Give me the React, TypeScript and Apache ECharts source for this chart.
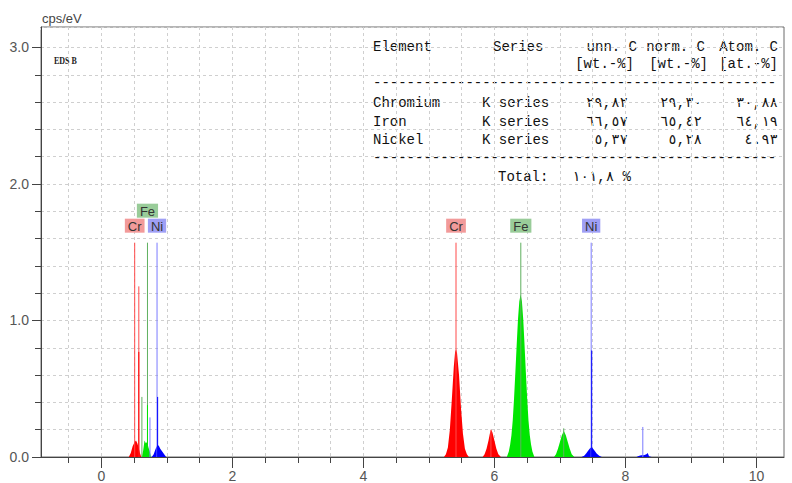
import { useEffect, useRef } from "react";
import * as echarts from "echarts";

// ---------- axis ticks ----------
const xLabelValues = [0, 2, 4, 6, 8, 10];
const xMinorTickValues = [-0.5, 0, 0.5, 1, 1.5, 2, 2.5, 3, 3.5, 4, 4.5, 5, 5.5, 6, 6.5, 7, 7.5, 8, 8.5, 9, 9.5, 10];

// ---------- spectrum peaks (energy keV, cps/eV) ----------
const crLPeak = [[0.42, 0], [0.45, 0.03], [0.48, 0.08], [0.51, 0.11], [0.53, 0.12], [0.55, 0.1], [0.57, 0.07], [0.59, 0.03], [0.61, 0]];
const crKaPeak = [[5.23, 0], [5.26, 0.02], [5.29, 0.07], [5.32, 0.2], [5.35, 0.42], [5.38, 0.66], [5.40, 0.77], [5.415, 0.79], [5.43, 0.76], [5.46, 0.6], [5.49, 0.36], [5.52, 0.17], [5.55, 0.06], [5.58, 0.02], [5.61, 0]];
const crKbPeak = [[5.82, 0], [5.85, 0.02], [5.88, 0.06], [5.91, 0.12], [5.93, 0.17], [5.95, 0.2], [5.97, 0.18], [6.0, 0.12], [6.03, 0.06], [6.06, 0.02], [6.1, 0]];

const feLPeak = [[0.62, 0], [0.64, 0.05], [0.66, 0.12], [0.68, 0.1], [0.7, 0.11], [0.72, 0.07], [0.74, 0.04], [0.76, 0]];
const feKaPeak = [[6.19, 0], [6.22, 0.04], [6.24, 0.09], [6.26, 0.16], [6.28, 0.27], [6.3, 0.43], [6.32, 0.62], [6.34, 0.82], [6.36, 1.01], [6.38, 1.14], [6.4, 1.19], [6.42, 1.14], [6.44, 1.01], [6.46, 0.82], [6.48, 0.62], [6.5, 0.43], [6.52, 0.27], [6.54, 0.16], [6.56, 0.09], [6.58, 0.04], [6.61, 0]];
const feKbPeak = [[6.91, 0], [6.94, 0.02], [6.97, 0.06], [7.0, 0.11], [7.03, 0.16], [7.06, 0.19], [7.09, 0.16], [7.12, 0.11], [7.15, 0.06], [7.18, 0.02], [7.22, 0]];

const niLPeak = [[0.77, 0], [0.8, 0.02], [0.83, 0.06], [0.86, 0.09], [0.88, 0.08], [0.9, 0.06], [0.93, 0.04], [0.96, 0.02], [0.99, 0]];
const niKaPeak = [[7.33, 0], [7.37, 0.01], [7.4, 0.025], [7.43, 0.045], [7.46, 0.065], [7.48, 0.072], [7.5, 0.065], [7.53, 0.045], [7.56, 0.025], [7.6, 0.01], [7.64, 0]];
const niKbPeak = [[8.17, 0], [8.2, 0.008], [8.24, 0.012], [8.28, 0.012], [8.32, 0.02], [8.34, 0.03], [8.36, 0.005], [8.4, 0]];

// narrow single-channel spikes of the spectrum
const crSpikes = [[0.573, 0.77]];
const feSpikes = [[0.705, 0.38]];
const niSpikes = [[0.86, 0.44], [7.485, 0.78]];

// element identification lines [energy, height]
const crLines = [[0.51, 1.57], [0.573, 1.25], [5.414, 1.57], [5.947, 0.2]];
const feLines = [[0.62, 0.44], [0.705, 1.57], [6.403, 1.57], [7.058, 0.21]];
const niLines = [[0.743, 0.29], [0.851, 1.57], [7.477, 1.57], [8.265, 0.22]];
const labelledHeight = 1.57;

// ---------- quantification table ----------
const tableElements = ["Chromium", "Iron", "Nickel"];
const tableSeries = ["K series", "K series", "K series"];
const unnC = ["٢٩,٨٢", "٦٦,٥٧", "٥,٣٧"];
const normC = ["٢٩,٣٠", "٦٥,٤٢", "٥,٢٨"];
const atomC = ["٣٠,٨٨", "٦٤,١٩", "٤.٩٣"];
const totalValue = "١٠١,٨ %";

const ELEMENTS = [
  { name: "Cr", fill: "#ff0000", line: "#ff4a4a", label: "#f29a9a", peaks: [crLPeak, crKaPeak, crKbPeak], spikes: crSpikes, lines: crLines },
  { name: "Fe", fill: "#00e600", line: "#5fb05f", label: "#99cc99", peaks: [feLPeak, feKaPeak, feKbPeak], spikes: feSpikes, lines: feLines },
  { name: "Ni", fill: "#0000ff", line: "#7a7aff", label: "#9f9ff5", peaks: [niLPeak, niKaPeak, niKbPeak], spikes: niSpikes, lines: niLines },
];

const sansNarrow = "'Liberation Sans Narrow', 'Liberation Sans', Arial, sans-serif";
const mono = "'Liberation Mono', 'DejaVu Sans Mono', monospace";

export default function App() {
  const ref = useRef<HTMLDivElement>(null);

  useEffect(() => {
    const chart = echarts.init(ref.current!, null, { renderer: "svg" });

    const fillSeries = ELEMENTS.map((el) => ({
      type: "line",
      name: el.name,
      color: el.fill,
      data: ([] as number[][]).concat(...el.peaks),
      symbol: "none",
      showSymbol: false,
      silent: true,
      lineStyle: { width: 0 },
      areaStyle: { color: el.fill, opacity: 1 },
      z: 2,
    }));

    const vLine = (name: string, x: number, h: number, color: string, z: number, label?: any) => ({
      type: "line",
      name,
      color,
      data: [[x, 0], [x, h]],
      symbol: "none",
      showSymbol: false,
      silent: true,
      lineStyle: { color, width: 1, type: "solid", opacity: 1 },
      z,
      markPoint: label
        ? {
            silent: true,
            symbol: "rect",
            symbolSize: 0,
            animation: false,
            data: [{ coord: [x, h] }],
            label,
          }
        : undefined,
    });

    const lineSeries: any[] = [];
    ELEMENTS.forEach((el) => {
      el.lines.forEach(([x, h]) => {
        const labelled = h === labelledHeight;
        const raised = labelled && el.name === "Fe" && x < 1;
        const label = labelled
          ? {
              show: true,
              position: "top",
              formatter: el.name,
              backgroundColor: el.label,
              color: "#333",
              fontSize: 13,
              fontFamily: "'Liberation Sans', Arial, sans-serif",
              padding: [1, 3, 0, 3],
              distance: raised ? 25 : 10,
            }
          : undefined;
        lineSeries.push(vLine(el.name + " line", x, h, el.line, 5, label));
      });
    });
    ELEMENTS.forEach((el) => {
      el.spikes.forEach(([x, h]) => {
        lineSeries.push(vLine(el.name + " spike", x, h, el.fill, 6));
      });
    });

    const tableText = (text: string, x: number, y: number, align: string = "left") => ({
      type: "text",
      x,
      y,
      silent: true,
      style: { text, fill: "#111", font: `14px ${mono}`, align, verticalAlign: "middle" },
    });

    const dashes = "-".repeat(48);
    const rowY = [103, 122, 140];
    const tableChildren: any[] = [
      { type: "rect", shape: { x: 367, y: 28, width: 416, height: 163 }, style: { fill: "#ffffff" }, silent: true },
      tableText("Element", 373, 47),
      tableText("Series", 493, 47),
      tableText("unn. C", 637, 47, "right"),
      tableText("norm. C", 705, 47, "right"),
      tableText("Atom. C", 778, 47, "right"),
      tableText("[wt.-%]", 634, 64, "right"),
      tableText("[wt.-%]", 708, 64, "right"),
      tableText("[at.-%]", 778, 64, "right"),
      tableText(dashes, 373, 83),
      tableText(dashes, 373, 158),
      tableText("Total:", 498, 177),
      tableText(totalValue, 572, 177),
    ];
    tableElements.forEach((name, i) => {
      tableChildren.push(tableText(name, 373, rowY[i]));
      tableChildren.push(tableText(tableSeries[i], 482, rowY[i]));
      tableChildren.push(tableText(unnC[i], 628, rowY[i], "right"));
      tableChildren.push(tableText(normC[i], 702, rowY[i], "right"));
      tableChildren.push(tableText(atomC[i], 778, rowY[i], "right"));
    });

    const axisColor = "#444";
    const labelStyle = { color: "#555", fontSize: 14, fontFamily: sansNarrow };
    const gridLine = { color: "#cfcfcf", type: [3, 3], width: 1 };

    const option: any = {
      animation: false,
      backgroundColor: "#ffffff",
      grid: {
        left: 41,
        top: 27,
        right: 8,
        bottom: 25,
        show: true,
        borderColor: "#6a6a6a",
        borderWidth: 1,
        backgroundColor: "transparent",
      },
      xAxis: [
        {
          type: "value",
          min: -0.92,
          max: 10.42,
          axisLine: { show: true, onZero: false, lineStyle: { color: axisColor, width: 1 } },
          axisTick: { show: true, length: 6, customValues: xMinorTickValues, lineStyle: { color: axisColor } },
          axisLabel: { show: true, margin: 12, customValues: xLabelValues, formatter: (v: number) => String(v), ...labelStyle },
          splitLine: { show: true, lineStyle: gridLine },
        },
        {
          type: "value",
          min: -0.92,
          max: 10.42,
          position: "bottom",
          axisLine: { show: false, onZero: false },
          axisTick: { show: true, length: 11, customValues: xLabelValues, lineStyle: { color: axisColor } },
          axisLabel: { show: false },
          splitLine: { show: false },
        },
      ],
      yAxis: {
        type: "value",
        min: 0,
        max: 3.15,
        interval: 1,
        name: "cps/eV",
        nameLocation: "end",
        nameGap: 9,
        nameTextStyle: { align: "left", verticalAlign: "middle", color: "#444", fontSize: 13, fontFamily: sansNarrow, padding: [0, 0, 0, 1] },
        axisLine: { show: true, onZero: false, lineStyle: { color: axisColor, width: 1 } },
        axisTick: { show: true, length: 9, lineStyle: { color: axisColor } },
        minorTick: { show: true, splitNumber: 5, length: 6, lineStyle: { color: axisColor } },
        axisLabel: {
          show: true,
          margin: 12,
          ...labelStyle,
          formatter: (v: number) => (Math.abs(v - Math.round(v)) < 1e-6 && v <= 3.0001 ? v.toFixed(1) : ""),
        },
        splitLine: { show: true, lineStyle: gridLine },
        minorSplitLine: { show: true, lineStyle: gridLine },
      },
      series: [...fillSeries, ...lineSeries],
      graphic: [
        {
          type: "text",
          x: 54,
          y: 61,
          scaleX: 0.8,
          silent: true,
          style: { text: "EDS B", fill: "#222", font: "bold 10px 'Liberation Serif', serif", align: "left", verticalAlign: "middle" },
        },
        // hides the extra tick that ECharts adds at the axis maximum
        { type: "rect", shape: { x: 28, y: 24, width: 12.5, height: 6 }, style: { fill: "#ffffff" }, silent: true, z: 60 },
        { type: "group", z: 50, children: tableChildren },
      ],
    };

    chart.setOption(option);
    return () => chart.dispose();
  }, []);

  return (
    <div
      ref={ref}
      style={{ position: "fixed", left: 0, top: 0, width: 792, height: 483, background: "#fff" }}
    />
  );
}
